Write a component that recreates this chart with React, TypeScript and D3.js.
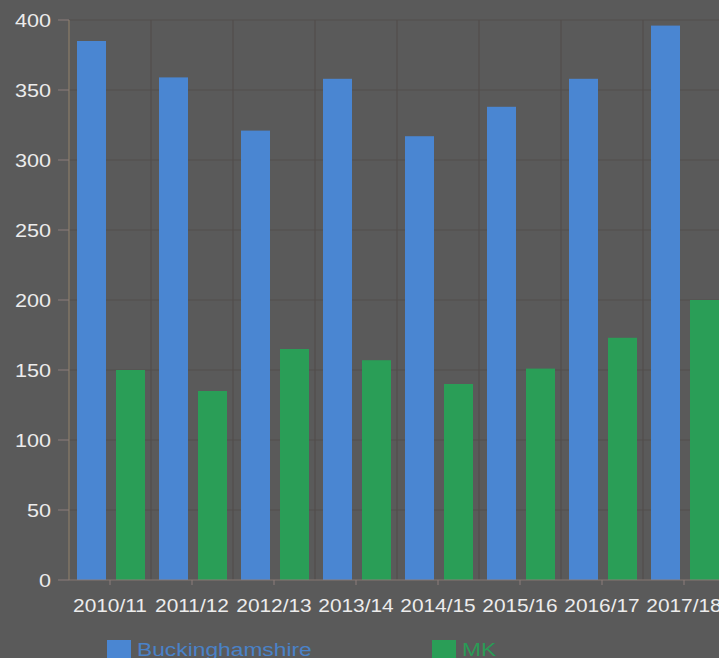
import React from "react";
import * as d3 from "d3";

const categories = ["2010/11", "2011/12", "2012/13", "2013/14", "2014/15", "2015/16", "2016/17", "2017/18"];
const buckinghamshire = [385, 359, 321, 358, 317, 338, 358, 396];
const mk = [150, 135, 165, 157, 140, 151, 173, 200];
const seriesNames = ["Buckinghamshire", "MK"];
const seriesColors = ["#4a86d2", "#2a9e57"];
const legendTextColors = ["#4a82c8", "#2a9a56"];
const yTicks = [0, 50, 100, 150, 200, 250, 300, 350, 400];

const W = 719;
const H = 658;
const left = 69;
const top = 20;
const bottom = 580;
const step = 82;

export default function App() {
  const x0 = d3
    .scaleBand<string>()
    .domain(categories)
    .range([left, left + step * categories.length])
    .padding(0);
  const x1 = d3
    .scaleBand<string>()
    .domain(seriesNames)
    .range([8, 76])
    .paddingInner(0.256)
    .paddingOuter(0);
  const y = d3.scaleLinear().domain([0, 400]).range([bottom, top]);
  const series = [buckinghamshire, mk];

  return (
    <svg
      width={W}
      height={H}
      style={{ position: "absolute", left: 0, top: 0, display: "block" }}
      fontFamily="'Liberation Sans', Arial, sans-serif"
    >
      <rect x={0} y={0} width={W} height={H} fill="#5a5a5a" />
      {yTicks.map((t) => (
        <line key={"g" + t} x1={left} x2={W} y1={y(t)} y2={y(t)} stroke="#524e4c" strokeWidth={1.2} />
      ))}
      {categories.map((c) => (
        <line
          key={"v" + c}
          x1={(x0(c) as number) + step}
          x2={(x0(c) as number) + step}
          y1={top}
          y2={bottom}
          stroke="#524e4c"
          strokeWidth={1.2}
        />
      ))}
      {categories.map((c, i) =>
        series.map((s, j) => (
          <rect
            key={c + j}
            x={(x0(c) as number) + (x1(seriesNames[j]) as number)}
            y={y(s[i])}
            width={x1.bandwidth()}
            height={y(0) - y(s[i])}
            fill={seriesColors[j]}
          />
        ))
      )}
      <line x1={left} x2={left} y1={top} y2={bottom} stroke="#8a7c68" strokeWidth={1.2} />
      <line x1={left} x2={W} y1={bottom} y2={bottom} stroke="#8a7c78" strokeWidth={1.2} />
      {yTicks.map((t) => (
        <g key={"yt" + t}>
          <line x1={58} x2={left} y1={y(t)} y2={y(t)} stroke="#8c7c7a" strokeWidth={1} />
          <text
            transform={`translate(51,${y(t) + 6.5}) scale(1.2,1)`}
            textAnchor="end"
            fontSize={18}
            fill="#ececec"
          >
            {t}
          </text>
        </g>
      ))}
      {categories.map((c) => {
        const cx = (x0(c) as number) + step / 2;
        return (
          <g key={"xt" + c}>
            <line x1={cx} x2={cx} y1={bottom} y2={bottom + 5} stroke="#8c7c7a" strokeWidth={1} />
            <text
              transform={`translate(${cx},${611.5}) scale(1.16,1)`}
              textAnchor="middle"
              fontSize={18}
              fill="#ececec"
            >
              {c}
            </text>
          </g>
        );
      })}
      {seriesNames.map((n, j) => {
        const lx = j === 0 ? 107 : 432;
        return (
          <g key={"lg" + n}>
            <rect x={lx} y={640} width={24} height={20} fill={seriesColors[j]} />
            <text
              transform={`translate(${lx + 30},${656}) scale(1.2,1)`}
              fontSize={19}
              fill={legendTextColors[j]}
            >
              {n}
            </text>
          </g>
        );
      })}
    </svg>
  );
}
